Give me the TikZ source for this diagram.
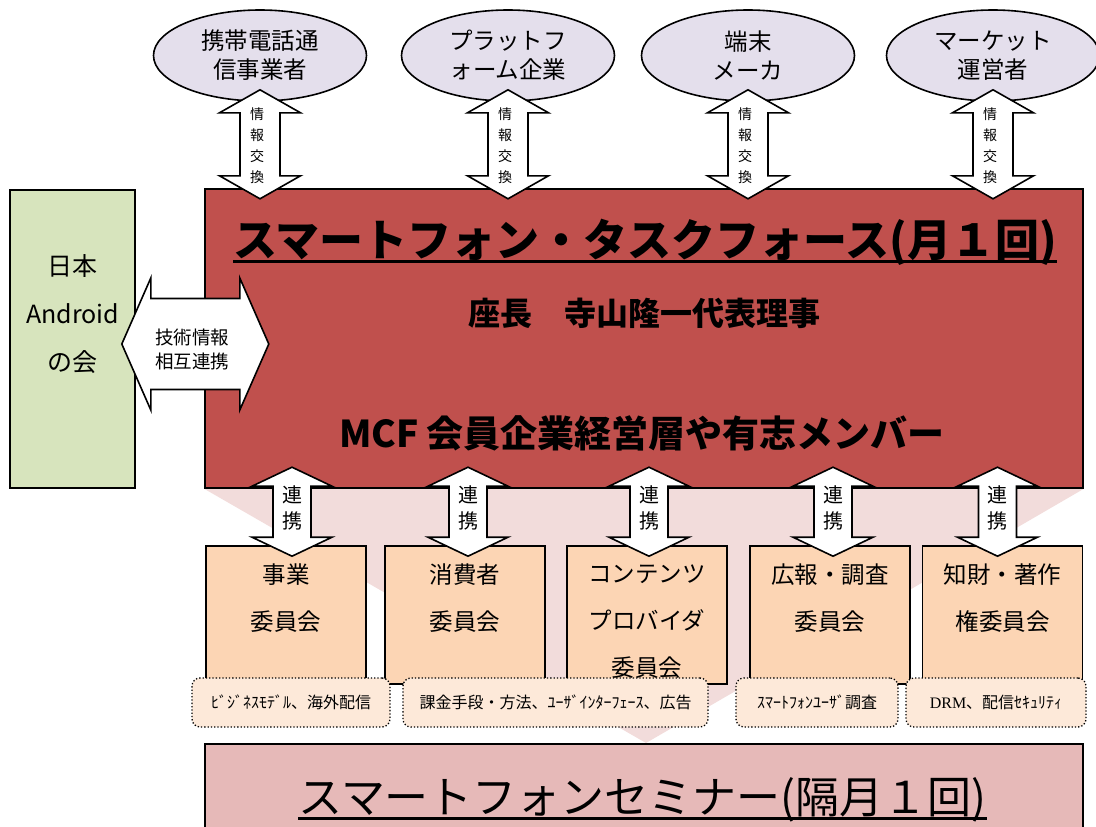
\documentclass[tikz,border=0pt]{standalone}
\usepackage{fontspec}
\setmainfont{Noto Sans CJK JP}
\newfontfamily\drmfont{Liberation Serif}
\usepackage{xcolor}
\definecolor{taskred}{HTML}{C0504D}
\definecolor{androidgreen}{HTML}{D7E4BD}
\definecolor{partnerlilac}{HTML}{E4DFEC}
\definecolor{committeepeach}{HTML}{FCD5B4}
\definecolor{topicpeach}{HTML}{FDE9D9}
\definecolor{funnelpink}{HTML}{F2DCDB}
\definecolor{seminarpink}{HTML}{E6B9B8}
\usepackage{tikz}
\usetikzlibrary{positioning,shapes}
\pgfdeclarelayer{background}
\pgfsetlayers{background,main}
\newcommand{\thickul}[1]{\setbox0=\hbox{#1}\rlap{\rule[-7pt]{\wd0}{2.6pt}}\box0}
\newcommand{\infolink}[1]{
\draw[blockarrow] ([yshift=12pt]#1.south) -- ++(40.5,23) -- ++(-20.5,0) -- ++(0,63) -- ++(20.5,0)
  -- ++(-40.5,23) -- ++(-40.5,-23) -- ++(20.5,0) -- ++(0,-63) -- ++(-20.5,0) -- cycle;}
\newcommand{\teamlink}[2]{
\draw[blockarrow] ([xshift=#2,yshift=78pt]#1.north) -- ++(40,19) -- ++(-21,0) -- ++(0,51) -- ++(21,0)
  -- ++(-40,19) -- ++(-40,-19) -- ++(21,0) -- ++(0,-51) -- ++(-21,0) -- cycle;}
\tikzstyle{partner}=[ellipse, draw=black, line width=1.6pt, fill=partnerlilac, minimum width=213pt,
        minimum height=91pt, inner sep=0pt, align=center, font=\fontsize{23.5}{29}\selectfont]
\tikzstyle{bigbox}=[rectangle, draw=black, line width=1.6pt]
\tikzstyle{taskbox}=[bigbox, fill=taskred]
\tikzstyle{androidbox}=[bigbox, fill=androidgreen]
\tikzstyle{seminarbox}=[bigbox, fill=seminarpink]
\tikzstyle{committee}=[bigbox, fill=committeepeach, minimum width=160pt, minimum height=138pt]
\tikzstyle{committeetext}=[align=center, inner sep=0pt, font=\fontsize{23.5}{47}\selectfont]
\tikzstyle{topic}=[rectangle, rounded corners=8pt, draw=black, dotted, line width=1.3pt, fill=topicpeach,
        minimum height=49pt, font=\fontsize{16}{18}\selectfont]
\tikzstyle{blockarrow}=[draw=black, line width=1.6pt, fill=white, line join=miter]
\tikzstyle{infotext}=[align=center, inner sep=0pt, font=\fontsize{14}{21}\selectfont]
\tikzstyle{linktext}=[align=center, inner sep=0pt, font=\fontsize{20}{26}\selectfont]

\begin{document}
\begin{tikzpicture}[x=1pt, y=-1pt]
\useasboundingbox (0,0) rectangle (1096,827);

% partners
\node (Carrier) [partner] at (260,55.5) {携帯電話通\\信事業者};
\node (Platform) [partner] at (508,55.5) {プラットフ\\ォーム企業};
\node (Maker) [partner] at (748,55.5) {端末\\メーカ};
\node (Market) [partner] at (993,55.5) {マーケット\\運営者};

% task force and seminar
\node (Seminar) [seminarbox, minimum width=878pt, minimum height=90pt, anchor=north] at (644,743) {};
\node (TaskForce) [taskbox, minimum width=878pt, minimum height=299pt] at (644,338.5) {};
\node (Android) [androidbox, minimum width=125pt, minimum height=298pt] at (72.5,339) {};
\begin{pgfonlayer}{background}
\fill[funnelpink] (TaskForce.south west) -- (TaskForce.south east) -- ([xshift=2pt]Seminar.north) -- cycle;
\end{pgfonlayer}

\node (TaskTitle) [anchor=base, inner sep=0pt, font=\bfseries\fontsize{44}{50}\selectfont] at (645,256)
  {\thickul{スマートフォン・タスクフォース(月１回)}};
\node (Chair) [font=\bfseries\fontsize{32}{38}\selectfont] at (644,313) {座長　寺山隆一代表理事};
\node (Members) [font=\bfseries\fontsize{37}{42}\selectfont] at (642,433) {MCF 会員企業経営層や有志メンバー};
\node (SeminarTitle) [anchor=base, inner sep=0pt, font=\fontsize{44}{50}\selectfont] at (642.5,813)
  {\thickul{スマートフォンセミナー(隔月１回)}};
\node (AndroidText) [align=center, font=\fontsize{25}{48}\selectfont] at (72.5,314) {日本\\Android\\の会};

% committees
\node (Biz) [committee] at (286,615) {};
\node (Consumer) [committee] at (465,615) {};
\node (Content) [committee] at (647,615) {};
\node (Survey) [committee] at (830,615) {};
\node (Rights) [committee] at (1002.5,615) {};
\node (BizText) [committeetext] at (286,598.5) {事業\\委員会};
\node (ConsumerText) [committeetext] at (465,598.5) {消費者\\委員会};
\node (ContentText) [committeetext] at (647,622) {コンテンツ\\プロバイダ\\委員会};
\node (SurveyText) [committeetext] at (830,598.5) {広報・調査\\委員会};
\node (RightsText) [committeetext] at (1002.5,598.5) {知財・著作\\権委員会};

\node (BizTopic) [topic, minimum width=198pt] at (291,702.5) {ﾋﾞｼﾞﾈｽﾓﾃﾞﾙ、海外配信};
\node (ConsumerTopic) [topic, minimum width=305pt] at (555.5,702.5) {課金手段・方法、ﾕｰｻﾞｲﾝﾀｰﾌｪｰｽ、広告};
\node (SurveyTopic) [topic, minimum width=162pt] at (817,702.5) {ｽﾏｰﾄﾌｫﾝﾕｰｻﾞ調査};
\node (RightsTopic) [topic, minimum width=180pt] at (996,702.5) {{\drmfont DRM}、配信ｾｷｭﾘﾃｨ};

% links
\infolink{Carrier}
\infolink{Platform}
\infolink{Maker}
\infolink{Market}
\node (CarrierInfo) [infotext] at (257,146) {情\\報\\交\\換};
\node (PlatformInfo) [infotext] at (505,146) {情\\報\\交\\換};
\node (MakerInfo) [infotext] at (745,146) {情\\報\\交\\換};
\node (MarketInfo) [infotext] at (990,146) {情\\報\\交\\換};

\teamlink{Biz}{6pt}
\teamlink{Consumer}{3pt}
\teamlink{Content}{2pt}
\teamlink{Survey}{3pt}
\teamlink{Rights}{-5pt}
\node (BizLink) [linktext] at (292,507.5) {連\\携};
\node (ConsumerLink) [linktext] at (468,507.5) {連\\携};
\node (ContentLink) [linktext] at (649,507.5) {連\\携};
\node (SurveyLink) [linktext] at (833,507.5) {連\\携};
\node (RightsLink) [linktext] at (997.5,507.5) {連\\携};

\draw[blockarrow] ([xshift=-14pt,yshift=-5pt]Android.east) -- ++(29,-66) -- ++(0,20.5) -- ++(89,0) -- ++(0,-20.5)
  -- ++(29,66) -- ++(-29,66) -- ++(0,-20.5) -- ++(-89,0) -- ++(0,20.5) -- cycle;
\node (TechLink) [align=center, inner sep=0pt, font=\fontsize{18.5}{24}\selectfont] at (192,349) {技術情報\\相互連携};

\end{tikzpicture}
\end{document}
